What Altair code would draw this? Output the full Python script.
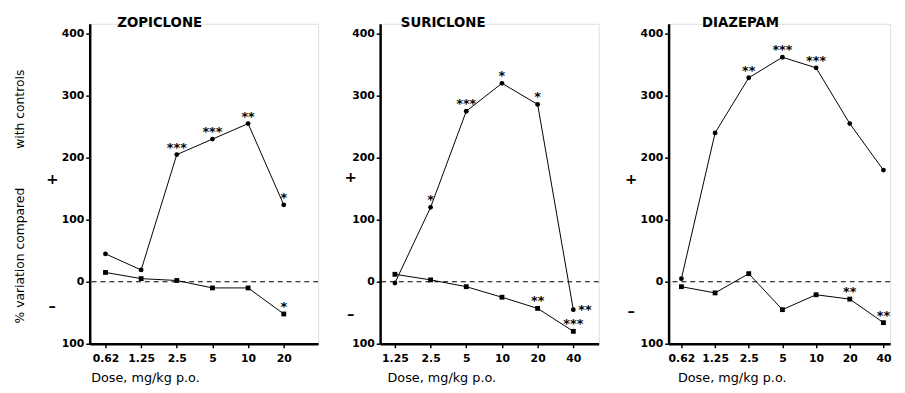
import altair as alt
import pandas as pd

FONT = "DejaVu Sans"

# ---------------- data ----------------
zop_doses = [0.625, 1.25, 2.5, 5, 10, 20]
zop_labels = ["0.62", "1.25", "2.5", "5", "10", "20"]
zop_upper = [45, 19, 205, 230, 255, 124]
zop_lower = [15, 5, 2, -10, -10, -52]

sur_doses = [1.25, 2.5, 5, 10, 20, 40]
sur_labels = ["1.25", "2.5", "5", "10", "20", "40"]
sur_upper = [-2, 120, 275, 320, 286, -45]
sur_lower = [12, 3, -8, -25, -43, -80]

dia_doses = [0.625, 1.25, 2.5, 5, 10, 20, 40]
dia_labels = ["0.62", "1.25", "2.5", "5", "10", "20", "40"]
dia_upper = [5, 240, 329, 362, 345, 255, 180]
dia_lower = [-8, -18, 13, -45, -21, -28, -66]

# significance marks: (series, dose, stars, placement)
zop_stars = [("upper", 2.5, "***", "above"), ("upper", 5, "***", "above"),
             ("upper", 10, "**", "above"), ("upper", 20, "*", "above"),
             ("lower", 20, "*", "above")]
sur_stars = [("upper", 2.5, "*", "above"), ("upper", 5, "***", "above"),
             ("upper", 10, "*", "above"), ("upper", 20, "*", "above"),
             ("upper", 40, "**", "right"), ("lower", 20, "**", "above"),
             ("lower", 40, "***", "above")]
dia_stars = [("upper", 2.5, "**", "above"), ("upper", 5, "***", "above"),
             ("upper", 10, "***", "above"), ("lower", 20, "**", "above"),
             ("lower", 40, "**", "above")]

y_tick_values = [-100, 0, 100, 200, 300, 400]
y_tick_labels = ["100", "0", "100", "200", "300", "400"]

Y_DOMAIN = [-100, 416]
H = 325
Y_TITLE = "% variation compared" + "\u00a0" * 10 + "with controls"


def label_expr(values, labels):
    expr = "''"
    for v, l in reversed(list(zip(values, labels))):
        expr = f"datum.value == {v} ? '{l}' : ({expr})"
    return expr


def make_panel(name, doses, labels, upper, lower, stars, width, xdomain,
               title_dx, xtitle_x, sign_dx, plus_v, minus_v, ytitle):
    rows = []
    for d, u, lo in zip(doses, upper, lower):
        rows.append({"dose": d, "value": u, "series": "upper"})
        rows.append({"dose": d, "value": lo, "series": "lower"})
    pts = pd.DataFrame(rows)
    lookup = {(r["series"], r["dose"]): r["value"] for r in rows}
    st = pd.DataFrame([{"dose": d, "value": lookup[(s, d)], "stars": t, "place": p}
                       for s, d, t, p in stars])

    x = alt.X("dose:Q",
              scale=alt.Scale(type="log", base=2, domain=xdomain, nice=False),
              axis=alt.Axis(values=doses, labelExpr=label_expr(doses, labels),
                            grid=False, domainColor="black", domainWidth=2.5,
                            tickColor="black", tickWidth=1.5, tickSize=4,
                            labelFont=FONT, labelFontSize=11, labelFontWeight="bold",
                            labelColor="black", labelPadding=5,
                            title="Dose, mg/kg p.o.", titleFont=FONT,
                            titleFontSize=13, titleFontWeight="normal",
                            titleColor="black", titleX=xtitle_x, titleY=38,
                            titleAlign="left", titleBaseline="alphabetic"))
    yaxis = dict(values=y_tick_values,
                 labelExpr=label_expr(y_tick_values, y_tick_labels),
                 grid=False, domainColor="black", domainWidth=2.5,
                 tickColor="black", tickWidth=1.5, tickSize=4,
                 labelFont=FONT, labelFontSize=11, labelFontWeight="bold",
                 labelColor="black", labelPadding=2)
    if ytitle:
        yaxis.update(title=ytitle, titleFont=FONT, titleFontSize=12.5,
                     titleFontWeight="normal", titleColor="black", titlePadding=35,
                     titleY=175)
    else:
        yaxis.update(title=None)
    y = alt.Y("value:Q", scale=alt.Scale(domain=Y_DOMAIN, nice=False, zero=False),
              axis=alt.Axis(**yaxis))

    zero = alt.Chart(pd.DataFrame({"value": [0]})).mark_rule(
        color="black", strokeWidth=1.2, strokeDash=[5, 4]).encode(y=y)
    lines = alt.Chart(pts).mark_line(color="black", strokeWidth=1).encode(
        x=x, y=y, detail="series:N")
    marks = alt.Chart(pts).mark_point(filled=True, color="black", opacity=1, size=24).encode(
        x=x, y=y,
        shape=alt.Shape("series:N", scale=alt.Scale(domain=["upper", "lower"],
                                                     range=["circle", "square"]),
                        legend=None))
    above = alt.Chart(st).transform_filter("datum.place == 'above'").mark_text(
        font=FONT, fontSize=13, fontWeight="bold", color="black",
        baseline="alphabetic", dy=-3).encode(x=x, y=y, text="stars:N")
    right = alt.Chart(st).transform_filter("datum.place == 'right'").mark_text(
        font=FONT, fontSize=13, fontWeight="bold", color="black",
        baseline="alphabetic", align="left", dx=5, dy=4).encode(x=x, y=y, text="stars:N")
    signs = alt.Chart(pd.DataFrame({"value": [plus_v, minus_v], "s": ["+", "\u2013"]})).mark_text(
        font=FONT, fontSize=15, fontWeight="bold", color="black", baseline="middle").encode(
        x=alt.value(sign_dx), y=y, text="s:N")

    return alt.layer(zero, lines, marks, above, right, signs).properties(
        width=width, height=H,
        title=alt.TitleParams(name, anchor="start", frame="group", dx=title_dx, offset=-6,
                              font=FONT, fontSize=13.5, fontWeight="bold", color="black"))


p1 = make_panel("ZOPICLONE", zop_doses, zop_labels, zop_upper, zop_lower, zop_stars,
                232, [0.46, 39], 28, 1, -38, 166, -40, Y_TITLE)
p2 = make_panel("SURICLONE", sur_doses, sur_labels, sur_upper, sur_lower, sur_stars,
                222, [0.938, 65.5], 21, 7, -30, 168, -52, None)
p3 = make_panel("DIAZEPAM", dia_doses, dia_labels, dia_upper, dia_lower, dia_stars,
                225, [0.48, 45.9], 34, 9, -38, 165, -47, None)

chart = alt.hconcat(p1, p2, p3, spacing=24).configure_view(stroke=None).configure(
    background="white")

chart.save("out.html", embed_options={"renderer": "svg", "actions": False})
